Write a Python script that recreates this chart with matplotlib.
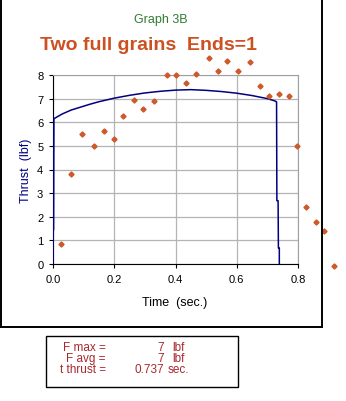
import matplotlib
matplotlib.use("Agg")
import matplotlib.pyplot as plt
from matplotlib.patches import Rectangle
from matplotlib.lines import Line2D

plt.rcParams['font.family'] = ['Liberation Sans', 'DejaVu Sans']

# Measured data points (time s, thrust lbf)
meas_t = [0.025, 0.058, 0.094, 0.134, 0.165, 0.200, 0.229, 0.264, 0.294, 0.329,
          0.372, 0.402, 0.434, 0.467, 0.509, 0.539, 0.568, 0.604, 0.643, 0.676,
          0.704, 0.738, 0.771, 0.796, 0.825, 0.858, 0.884, 0.916]
meas_f = [0.86, 3.83, 5.52, 5.01, 5.65, 5.31, 6.28, 6.96, 6.54, 6.92,
          8.00, 8.00, 7.67, 8.06, 8.73, 8.19, 8.60, 8.19, 8.57, 7.54,
          7.12, 7.20, 7.09, 5.01, 2.43, 1.79, 1.41, -0.10]

# Simulated thrust curve
sim_t = [0.000, 0.001, 0.002, 0.003, 0.030, 0.060, 0.090, 0.120, 0.150, 0.200,
         0.250, 0.300, 0.350, 0.400, 0.450, 0.500, 0.550, 0.600, 0.650, 0.700,
         0.725, 0.730, 0.731, 0.735, 0.736, 0.739, 0.739]
sim_f = [0.00, 1.45, 1.45, 6.15, 6.35, 6.52, 6.64, 6.76, 6.87, 7.02,
         7.14, 7.24, 7.31, 7.36, 7.38, 7.35, 7.30, 7.23, 7.13, 7.00,
         6.90, 6.86, 2.68, 2.68, 0.68, 0.68, 0.00]

x_ticks = [0.0, 0.2, 0.4, 0.6, 0.8]
y_ticks = [0, 1, 2, 3, 4, 5, 6, 7, 8]

summary_labels = ["F max =", "F avg =", "t thrust ="]
summary_values = ["7", "7", "0.737"]
summary_units = ["lbf", "lbf", "sec."]

W, H = 346, 402
fig = plt.figure(figsize=(W / 100, H / 100), dpi=100)

def fx(px):
    return px / W

def fy(py):
    return (H - py) / H

ax = fig.add_axes([fx(53), fy(265), (298 - 53) / W, (265 - 76) / H])
ax.set_xlim(0, 0.8)
ax.set_ylim(0, 8)
ax.set_xticks(x_ticks)
ax.set_xticklabels([f"{v:.1f}" for v in x_ticks])
ax.set_yticks(y_ticks)
ax.grid(True, color='#b4b4b4', linewidth=0.9)
ax.set_axisbelow(True)
for s in ['top', 'right']:
    ax.spines[s].set_color('#a0a0a0')
for s in ['left', 'bottom']:
    ax.spines[s].set_color('black')
ax.tick_params(direction='out', length=3, width=0.8, labelsize=8, pad=4)

ax.plot(sim_t, sim_f, color='#000080', linewidth=1.1, zorder=3)
ax.plot(meas_t, meas_f, linestyle='none', marker='D', markersize=2.6,
        color='#cc5a2a', clip_on=False, zorder=4)

# Texts
fig.text(fx(161), fy(23), "Graph 3B", color='#2e7d32', fontsize=9,
         ha='center', va='baseline')
fig.text(fx(148), fy(50), "Two full grains  Ends=1", color='#cc5020',
         fontsize=14, fontweight='bold', ha='center', va='baseline')
fig.text(fx(26), fy(171), "Thrust  (lbf)", color='#000080', fontsize=9,
         rotation=90, ha='center', va='center')
fig.text(fx(175), fy(303), "Time  (sec.)", color='black', fontsize=9,
         ha='center', va='center')

# Outer frame (left, right, bottom)
fig.add_artist(Line2D([fx(1), fx(1)], [fy(0), fy(327.5)], color='black', lw=1.4))
fig.add_artist(Line2D([fx(321.5), fx(321.5)], [fy(0), fy(327.5)], color='black', lw=1.4))
fig.add_artist(Line2D([fx(1), fx(321.5)], [fy(327.5), fy(327.5)], color='black', lw=1.4))

# Summary box
fig.add_artist(Rectangle((fx(46), fy(388)), (238 - 46) / W, (388 - 337) / H,
                         fill=False, edgecolor='black', linewidth=1.0))
tc = '#a8282d'
baselines = [351, 362, 373]
unit_x = [172, 172, 168]
for lab, val, unit, b, ux in zip(summary_labels, summary_values, summary_units,
                                 baselines, unit_x):
    fig.text(fx(106), fy(b), lab, color=tc, fontsize=8.5, ha='right', va='baseline')
    fig.text(fx(164), fy(b), val, color=tc, fontsize=8.5, ha='right', va='baseline')
    fig.text(fx(ux), fy(b), unit, color=tc, fontsize=8.5, ha='left', va='baseline')

fig.savefig("out.png", dpi=100)
